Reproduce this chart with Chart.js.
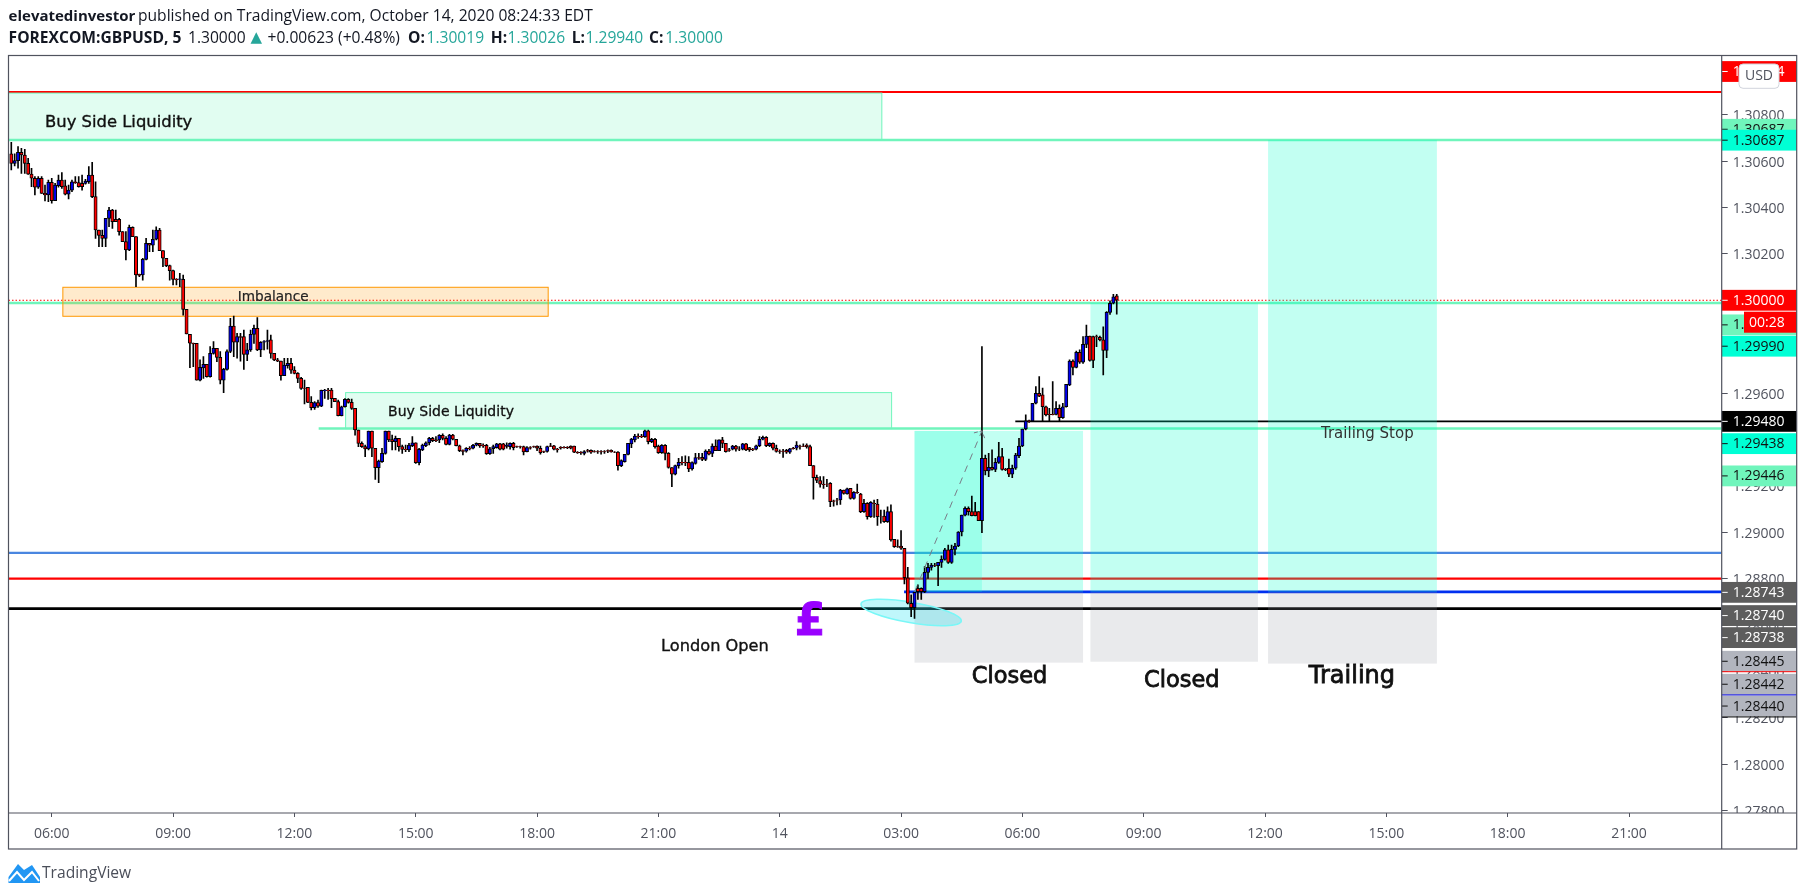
<!DOCTYPE html>
<html><head><meta charset="utf-8"><style>html,body{margin:0;padding:0;background:#fff}canvas{display:block}</style>
<script src="https://cdn.jsdelivr.net/npm/chart.js@4/dist/chart.umd.js"></script></head><body>
<canvas id="c" width="1805" height="896"></canvas>
<script>
// 5-minute GBPUSD candles, bar 0 = 05:00 on the 13th
const opens=[1.30631,1.30590,1.30602,1.30638,1.30626,1.30590,1.30544,1.30526,1.30487,1.30526,
1.30461,1.30454,1.30508,1.30429,1.30494,1.30518,1.30493,1.30457,1.30475,1.30511,
1.30507,1.30504,1.30504,1.30511,1.30540,1.30447,1.30303,1.30280,1.30267,1.30353,
1.30389,1.30349,1.30349,1.30296,1.30253,1.30217,1.30314,1.30274,1.30112,1.30109,
1.30176,1.30245,1.30237,1.30263,1.30303,1.30214,1.30181,1.30149,1.30128,1.30090,
1.30090,1.30090,1.29961,1.29853,1.29815,1.29814,1.29656,1.29708,1.29724,1.29671,
1.29771,1.29793,1.29754,1.29656,1.29702,1.29779,1.29889,1.29819,1.29843,1.29843,
1.29767,1.29786,1.29853,1.29879,1.29786,1.29819,1.29823,1.29829,1.29771,1.29743,
1.29738,1.29675,1.29718,1.29728,1.29699,1.29685,1.29663,1.29622,1.29625,1.29560,
1.29537,1.29559,1.29544,1.29610,1.29613,1.29613,1.29577,1.29563,1.29503,1.29541,
1.29573,1.29560,1.29534,1.29441,1.29383,1.29369,1.29359,1.29436,1.29362,1.29278,
1.29304,1.29340,1.29436,1.29400,1.29390,1.29405,1.29369,1.29358,1.29355,1.29373,
1.29386,1.29300,1.29355,1.29373,1.29386,1.29405,1.29398,1.29398,1.29418,1.29405,
1.29379,1.29419,1.29401,1.29373,1.29352,1.29350,1.29362,1.29362,1.29375,1.29383,
1.29375,1.29375,1.29339,1.29360,1.29365,1.29381,1.29381,1.29370,1.29369,1.29383,
1.29369,1.29369,1.29369,1.29347,1.29365,1.29369,1.29372,1.29362,1.29348,1.29348,
1.29373,1.29373,1.29359,1.29366,1.29366,1.29366,1.29372,1.29372,1.29345,1.29345,
1.29340,1.29352,1.29353,1.29348,1.29348,1.29348,1.29348,1.29352,1.29353,1.29346,
1.29346,1.29287,1.29304,1.29336,1.29381,1.29398,1.29415,1.29415,1.29412,1.29437,
1.29391,1.29401,1.29372,1.29343,1.29375,1.29340,1.29279,1.29250,1.29287,1.29302,
1.29302,1.29302,1.29273,1.29297,1.29322,1.29323,1.29314,1.29350,1.29340,1.29372,
1.29352,1.29398,1.29383,1.29355,1.29358,1.29372,1.29359,1.29358,1.29381,1.29365,
1.29358,1.29358,1.29373,1.29401,1.29409,1.29373,1.29383,1.29362,1.29350,1.29350,
1.29353,1.29345,1.29362,1.29362,1.29372,1.29372,1.29376,1.29369,1.29287,1.29237,
1.29223,1.29207,1.29208,1.29211,1.29135,1.29139,1.29139,1.29182,1.29165,1.29189,
1.29146,1.29172,1.29165,1.29089,1.29125,1.29067,1.29125,1.29122,1.29067,1.29070,
1.29046,1.29089,1.28970,1.28938,1.28941,1.28931,1.28804,1.28694,1.28675,1.28758,
1.28758,1.28744,1.28827,1.28849,1.28856,1.28856,1.28870,1.28883,1.28924,1.28870,
1.28926,1.28941,1.29001,1.29074,1.29103,1.29089,1.29089,1.29089,1.29050,1.29319,
1.29264,1.29280,1.29271,1.29301,1.29326,1.29271,1.29276,1.29250,1.29276,1.29330,
1.29372,1.29445,1.29480,1.29480,1.29556,1.29599,1.29592,1.29541,1.29508,1.29508,
1.29508,1.29534,1.29494,1.29541,1.29635,1.29738,1.29711,1.29776,1.29733,1.29810,
1.29846,1.29843,1.29843,1.29840,1.29829,1.29784,1.29948,1.29987,1.30019];
const highs=[1.30681,1.30631,1.30662,1.30655,1.30651,1.30612,1.30569,1.30533,1.30533,1.30533,
1.30497,1.30518,1.30526,1.30504,1.30540,1.30550,1.30518,1.30497,1.30518,1.30533,
1.30533,1.30540,1.30521,1.30576,1.30595,1.30511,1.30303,1.30303,1.30353,1.30401,
1.30392,1.30389,1.30353,1.30296,1.30296,1.30324,1.30317,1.30274,1.30113,1.30181,
1.30267,1.30245,1.30303,1.30317,1.30310,1.30214,1.30181,1.30152,1.30130,1.30094,
1.30116,1.30109,1.29961,1.29853,1.29815,1.29814,1.29743,1.29757,1.29724,1.29800,
1.29822,1.29793,1.29779,1.29707,1.29786,1.29922,1.29932,1.29858,1.29858,1.29872,
1.29814,1.29872,1.29893,1.29925,1.29822,1.29826,1.29872,1.29850,1.29771,1.29750,
1.29738,1.29750,1.29750,1.29750,1.29714,1.29688,1.29668,1.29656,1.29625,1.29585,
1.29563,1.29570,1.29613,1.29616,1.29620,1.29620,1.29577,1.29570,1.29544,1.29576,
1.29576,1.29574,1.29534,1.29441,1.29390,1.29376,1.29436,1.29436,1.29362,1.29311,
1.29362,1.29436,1.29436,1.29419,1.29415,1.29405,1.29376,1.29376,1.29383,1.29412,
1.29386,1.29362,1.29380,1.29390,1.29409,1.29409,1.29412,1.29421,1.29424,1.29412,
1.29422,1.29422,1.29401,1.29376,1.29355,1.29365,1.29369,1.29379,1.29386,1.29383,
1.29381,1.29379,1.29366,1.29376,1.29383,1.29383,1.29383,1.29386,1.29386,1.29388,
1.29372,1.29372,1.29372,1.29369,1.29369,1.29372,1.29373,1.29372,1.29350,1.29372,
1.29383,1.29375,1.29362,1.29369,1.29369,1.29369,1.29373,1.29372,1.29348,1.29348,
1.29352,1.29358,1.29355,1.29352,1.29352,1.29352,1.29352,1.29355,1.29355,1.29348,
1.29348,1.29312,1.29336,1.29383,1.29405,1.29422,1.29424,1.29422,1.29441,1.29441,
1.29405,1.29405,1.29376,1.29378,1.29378,1.29343,1.29279,1.29290,1.29319,1.29326,
1.29329,1.29326,1.29304,1.29340,1.29340,1.29340,1.29355,1.29358,1.29381,1.29398,
1.29398,1.29409,1.29383,1.29362,1.29375,1.29375,1.29369,1.29383,1.29383,1.29366,
1.29362,1.29376,1.29412,1.29415,1.29412,1.29386,1.29386,1.29376,1.29355,1.29358,
1.29358,1.29362,1.29366,1.29391,1.29376,1.29381,1.29381,1.29376,1.29287,1.29247,
1.29240,1.29240,1.29228,1.29214,1.29139,1.29146,1.29185,1.29182,1.29191,1.29189,
1.29175,1.29208,1.29168,1.29142,1.29128,1.29132,1.29139,1.29142,1.29096,1.29096,
1.29110,1.29118,1.28970,1.28967,1.29007,1.28931,1.28849,1.28730,1.28741,1.28773,
1.28761,1.28852,1.28866,1.28866,1.28866,1.28870,1.28898,1.28931,1.28945,1.28945,
1.28952,1.29003,1.29074,1.29110,1.29110,1.29156,1.29129,1.29089,1.29800,1.29333,
1.29340,1.29355,1.29319,1.29388,1.29362,1.29276,1.29316,1.29290,1.29340,1.29405,
1.29445,1.29506,1.29484,1.29556,1.29628,1.29671,1.29621,1.29544,1.29534,1.29649,
1.29563,1.29549,1.29556,1.29638,1.29743,1.29743,1.29781,1.29786,1.29843,1.29893,
1.29846,1.29846,1.29850,1.29846,1.29886,1.29951,1.29998,1.30026,1.30026];
const lows=[1.30562,1.30579,1.30569,1.30547,1.30547,1.30542,1.30490,1.30454,1.30482,1.30461,
1.30428,1.30425,1.30418,1.30429,1.30487,1.30482,1.30454,1.30437,1.30468,1.30504,
1.30487,1.30475,1.30500,1.30504,1.30442,1.30267,1.30231,1.30231,1.30231,1.30317,
1.30310,1.30339,1.30281,1.30253,1.30174,1.30214,1.30274,1.30059,1.30102,1.30087,
1.30174,1.30209,1.30209,1.30260,1.30214,1.30145,1.30145,1.30087,1.30066,1.30066,
1.30059,1.29936,1.29855,1.29710,1.29714,1.29656,1.29652,1.29663,1.29668,1.29668,
1.29768,1.29735,1.29639,1.29602,1.29699,1.29774,1.29757,1.29750,1.29738,1.29702,
1.29740,1.29779,1.29814,1.29783,1.29757,1.29786,1.29789,1.29750,1.29740,1.29735,
1.29656,1.29675,1.29707,1.29685,1.29682,1.29645,1.29616,1.29553,1.29559,1.29527,
1.29530,1.29538,1.29541,1.29577,1.29573,1.29537,1.29563,1.29501,1.29501,1.29539,
1.29556,1.29530,1.29419,1.29369,1.29366,1.29326,1.29355,1.29326,1.29228,1.29214,
1.29301,1.29337,1.29390,1.29355,1.29355,1.29350,1.29340,1.29347,1.29347,1.29369,
1.29297,1.29290,1.29352,1.29369,1.29376,1.29391,1.29391,1.29386,1.29398,1.29376,
1.29376,1.29398,1.29372,1.29347,1.29333,1.29345,1.29355,1.29359,1.29372,1.29366,
1.29366,1.29336,1.29336,1.29340,1.29362,1.29355,1.29355,1.29362,1.29358,1.29355,
1.29366,1.29362,1.29333,1.29346,1.29358,1.29366,1.29352,1.29337,1.29343,1.29345,
1.29369,1.29355,1.29345,1.29358,1.29362,1.29360,1.29359,1.29343,1.29340,1.29336,
1.29333,1.29345,1.29340,1.29345,1.29340,1.29337,1.29340,1.29343,1.29345,1.29343,
1.29268,1.29283,1.29302,1.29333,1.29365,1.29389,1.29405,1.29408,1.29409,1.29381,
1.29386,1.29362,1.29340,1.29340,1.29312,1.29276,1.29197,1.29247,1.29276,1.29290,
1.29287,1.29261,1.29268,1.29294,1.29314,1.29309,1.29309,1.29333,1.29326,1.29352,
1.29352,1.29365,1.29345,1.29348,1.29355,1.29350,1.29352,1.29355,1.29352,1.29348,
1.29352,1.29355,1.29369,1.29398,1.29369,1.29369,1.29355,1.29345,1.29340,1.29323,
1.29340,1.29340,1.29358,1.29355,1.29358,1.29369,1.29362,1.29287,1.29143,1.29214,
1.29194,1.29189,1.29197,1.29110,1.29113,1.29118,1.29120,1.29164,1.29164,1.29143,
1.29143,1.29168,1.29085,1.29086,1.29056,1.29064,1.29064,1.29029,1.29039,1.29043,
1.29043,1.28962,1.28935,1.28935,1.28926,1.28777,1.28691,1.28636,1.28629,1.28711,
1.28711,1.28740,1.28801,1.28837,1.28852,1.28770,1.28849,1.28880,1.28866,1.28866,
1.28902,1.28938,1.28984,1.29070,1.29074,1.29070,1.29070,1.29050,1.28998,1.29247,
1.29240,1.29268,1.29261,1.29297,1.29268,1.29266,1.29240,1.29235,1.29271,1.29322,
1.29369,1.29441,1.29474,1.29477,1.29553,1.29585,1.29480,1.29501,1.29481,1.29506,
1.29506,1.29480,1.29491,1.29539,1.29632,1.29678,1.29708,1.29728,1.29728,1.29796,
1.29738,1.29710,1.29800,1.29825,1.29678,1.29753,1.29939,1.29984,1.29940];
const closes=[1.30590,1.30602,1.30638,1.30626,1.30590,1.30544,1.30526,1.30487,1.30526,1.30461,
1.30454,1.30508,1.30429,1.30497,1.30518,1.30490,1.30457,1.30475,1.30511,1.30507,
1.30490,1.30490,1.30514,1.30540,1.30447,1.30303,1.30280,1.30267,1.30353,1.30389,
1.30339,1.30339,1.30296,1.30253,1.30217,1.30314,1.30274,1.30109,1.30107,1.30176,
1.30245,1.30237,1.30263,1.30303,1.30214,1.30181,1.30149,1.30128,1.30090,1.30088,
1.30092,1.29961,1.29855,1.29815,1.29812,1.29656,1.29711,1.29724,1.29671,1.29771,
1.29793,1.29754,1.29656,1.29702,1.29779,1.29889,1.29819,1.29843,1.29840,1.29767,
1.29786,1.29853,1.29879,1.29786,1.29819,1.29822,1.29826,1.29771,1.29743,1.29738,
1.29675,1.29721,1.29728,1.29699,1.29685,1.29663,1.29620,1.29620,1.29560,1.29537,
1.29559,1.29544,1.29612,1.29613,1.29610,1.29576,1.29563,1.29503,1.29541,1.29573,
1.29560,1.29534,1.29441,1.29383,1.29369,1.29359,1.29436,1.29362,1.29278,1.29307,
1.29340,1.29436,1.29398,1.29390,1.29405,1.29369,1.29357,1.29356,1.29376,1.29386,
1.29300,1.29357,1.29376,1.29386,1.29405,1.29395,1.29395,1.29418,1.29405,1.29379,
1.29419,1.29401,1.29373,1.29352,1.29349,1.29362,1.29359,1.29375,1.29383,1.29372,
1.29372,1.29339,1.29360,1.29369,1.29381,1.29358,1.29358,1.29376,1.29383,1.29365,
1.29368,1.29368,1.29346,1.29365,1.29363,1.29368,1.29362,1.29343,1.29346,1.29369,
1.29370,1.29358,1.29355,1.29363,1.29365,1.29365,1.29362,1.29345,1.29343,1.29343,
1.29348,1.29350,1.29345,1.29346,1.29346,1.29346,1.29346,1.29350,1.29346,1.29345,
1.29287,1.29309,1.29336,1.29383,1.29402,1.29415,1.29412,1.29412,1.29437,1.29391,
1.29401,1.29369,1.29343,1.29375,1.29340,1.29279,1.29250,1.29287,1.29302,1.29299,
1.29299,1.29273,1.29300,1.29322,1.29319,1.29314,1.29350,1.29337,1.29372,1.29352,
1.29398,1.29383,1.29347,1.29353,1.29372,1.29358,1.29358,1.29381,1.29355,1.29355,
1.29356,1.29373,1.29401,1.29409,1.29373,1.29383,1.29362,1.29348,1.29349,1.29349,
1.29345,1.29360,1.29360,1.29376,1.29370,1.29370,1.29369,1.29287,1.29235,1.29223,
1.29207,1.29205,1.29207,1.29132,1.29133,1.29138,1.29182,1.29168,1.29187,1.29146,
1.29172,1.29171,1.29089,1.29125,1.29067,1.29129,1.29123,1.29067,1.29066,1.29046,
1.29089,1.28967,1.28938,1.28937,1.28931,1.28804,1.28694,1.28675,1.28741,1.28744,
1.28744,1.28827,1.28849,1.28859,1.28855,1.28870,1.28883,1.28924,1.28870,1.28926,
1.28941,1.29001,1.29074,1.29103,1.29089,1.29072,1.29072,1.29050,1.29319,1.29264,
1.29280,1.29271,1.29301,1.29326,1.29271,1.29270,1.29250,1.29276,1.29333,1.29372,
1.29445,1.29480,1.29478,1.29556,1.29599,1.29587,1.29541,1.29506,1.29507,1.29507,
1.29534,1.29494,1.29541,1.29638,1.29738,1.29711,1.29776,1.29733,1.29810,1.29846,
1.29741,1.29741,1.29842,1.29829,1.29784,1.29948,1.29987,1.30015,1.30000];
// axes
const xTickBars=[12,48,84,120,156,192,228,264,300,336,372,408,444,480];
const xTickLabels=["06:00","09:00","12:00","15:00","18:00","21:00","14","03:00","06:00","09:00","12:00","15:00","18:00","21:00"];
const yTicks=[1.278,1.280,1.282,1.284,1.286,1.288,1.290,1.292,1.294,1.296,1.298,1.300,1.302,1.304,1.306,1.308];
// horizontal levels: [price, fromBar, colour, width]
const levels=[[1.30898,-1,"#ff0000",2],[1.30691,-1,"#70f5bc",2.4],[1.29988,-1,"#70f5bc",2.4],[1.29447,91.2,"#70f5bc",2.4],
[1.29478,297.9,"#000000",1.6],[1.28911,-1,"#4a86e0",2.2],[1.28800,-1,"#ff0000",2.4],[1.28743,264.9,"#0030f0",2.6],[1.28671,-1,"#000000",2.6]];
// rectangles: [fromBar,toBar,topPrice,bottomPrice,fill,stroke]
const boxes=[[-1,258.3,1.30893,1.30691,"rgba(112,245,188,.21)","#70f5bc"],
[15.3,159.3,1.30056,1.29931,"rgba(255,152,0,.2)","#ff9800"],
[99.2,261.2,1.29602,1.29447,"rgba(112,245,188,.21)","#70f5bc"],
[268,318,1.29437,1.28743,"rgba(0,255,200,.24)",null],[268,288,1.29437,1.28743,"rgba(0,255,200,.2)",null],[268,318,1.28743,1.28438,"rgba(145,150,160,.2)",null],
[320.2,369.9,1.29988,1.28743,"rgba(0,255,200,.24)",null],[320.2,369.9,1.28743,1.28442,"rgba(145,150,160,.2)",null],
[372.9,423,1.30691,1.28743,"rgba(0,255,200,.24)",null],[372.9,423,1.28743,1.28434,"rgba(145,150,160,.2)",null]];
// chart texts: [text,bar,price,font,colour,align,stroke]
const notes=[["Buy Side Liquidity",10,1.30764,"16.4px 'DejaVu Sans'","#111","left",.35],
["Buy Side Liquidity",111.8,1.29515,"14px 'DejaVu Sans'","#111","left",.3],
["Imbalance",77.7,1.30013,"13.6px 'DejaVu Sans'","#222","center",.2],
["London Open",192.8,1.28506,"16.2px 'DejaVu Sans'","#111","left",.35],
["Closed",285,1.28376,"22.5px 'DejaVu Sans'","#111","left",.8],
["Closed",336.1,1.28357,"22.5px 'DejaVu Sans'","#111","left",.8],
["Trailing",385,1.28376,"24px 'DejaVu Sans'","#111","left",.8],
["Trailing Stop",388.6,1.29423,"15px 'DejaVu Sans'","#333","left",0],
["£",237,1.28605,"bold 44px 'DejaVu Sans'","#9900ff","center",1]];
// price-scale tags: [text,price position,background,text colour]
const tags=[["1.30894",1.30986,"#ff0000","#fff"],["1.30687",1.30737,"#70f5bc","#111"],["1.30687",1.30690,"#00ffd5","#111"],
["1.30000",1.30000,"#ff0000","#fff"],["1.29990",1.29894,"#70f5bc","#111"],["1.29990",1.29802,"#00ffd5","#111"],
["1.29480",1.29478,"#000000","#fff"],["1.29438",1.29382,"#00ffd5","#111"],["1.29446",1.29243,"#70f5bc","#111"],
["1.28743",1.28741,"#5d5d5d","#fff"],["1.28740",1.28641,"#5d5d5d","#fff"],["1.28738",1.28546,"#5d5d5d","#fff"],
["1.28445",1.28444,"#b2b5be","#111"],["1.28442",1.28345,"#b2b5be","#111"],["1.28440",1.28251,"#b2b5be","#111"]];
const tagRules=[[1.28444-0.00045,"#ff0000"],[1.28345-0.00046,"#0000e0"],[1.28251-0.00047,"#000"]];
// header segments: [text,x,font,colour]
const F="px 'Open Sans'";
const head1=[["elevatedinvestor",8.6,"bold 15"+F,"#131722"],["published on TradingView.com, October 14, 2020 08:24:33 EDT",138,"15.6"+F,"#131722"]];
const head2=[["FOREXCOM:GBPUSD, 5",8.6,"bold 15.6"+F,"#131722"],["1.30000",188,"15.6"+F,"#131722"],["▲",250.5,"15px 'DejaVu Sans'","#26a69a"],["+0.00623 (+0.48%)",267.5,"15.6"+F,"#131722"],
["O:",408,"bold 15.6"+F,"#131722"],["1.30019",426.5,"15.6"+F,"#26a69a"],["H:",490.8,"bold 15.6"+F,"#131722"],["1.30026",507.5,"15.6"+F,"#26a69a"],
["L:",571.8,"bold 15.6"+F,"#131722"],["1.29940",585.5,"15.6"+F,"#26a69a"],["C:",649,"bold 15.6"+F,"#131722"],["1.30000",665.3,"15.6"+F,"#26a69a"]];

const bars=opens.map((o,i)=>i);
const wickData=bars.map(i=>({x:i,y:[lows[i],highs[i]]}));
const bodyData=bars.map(i=>({x:i,y:[opens[i],closes[i]]}));
const bodyColors=bars.map(i=>closes[i]>=opens[i]?"#0000f0":"#ff0000");
const AXIS="#50535e";

const overlay={id:"overlay",
 beforeDatasetsDraw(ch){const c=ch.ctx,X=ch.scales.x,Y=ch.scales.y,A=ch.chartArea;
  c.save();c.beginPath();c.rect(A.left,A.top,A.right-A.left,A.bottom-A.top);c.clip();
  for(const [p,from,col,w] of levels){c.strokeStyle=col;c.lineWidth=w;c.beginPath();c.moveTo(X.getPixelForValue(from),Y.getPixelForValue(p));c.lineTo(A.right,Y.getPixelForValue(p));c.stroke();}
  c.strokeStyle="#ff0000";c.lineWidth=1;c.setLineDash([1.5,2]);const ly=Y.getPixelForValue(closes[closes.length-1]);c.beginPath();c.moveTo(A.left,ly);c.lineTo(A.right,ly);c.stroke();c.setLineDash([]);
  for(const [a,b,t,u,f,s] of boxes){const x=X.getPixelForValue(a),w=X.getPixelForValue(b)-x,y=Y.getPixelForValue(t),h=Y.getPixelForValue(u)-y;
   c.fillStyle=f;c.fillRect(x,y,w,h);if(s){c.strokeStyle=s;c.lineWidth=1;c.strokeRect(x,y,w,h);}}
  const ex=X.getPixelForValue(267),ey=Y.getPixelForValue(1.28654),rx=X.getPixelForValue(267+15.1)-ex,ry=Y.getPixelForValue(1.28654-0.00044)-ey;
  c.beginPath();c.ellipse(ex,ey,rx,ry,0.17,0,Math.PI*2);c.fillStyle="rgba(0,225,240,.25)";c.fill();c.strokeStyle="#7af7f7";c.lineWidth=1.5;c.stroke();
  c.restore();},
 afterDatasetsDraw(ch){const c=ch.ctx,X=ch.scales.x,Y=ch.scales.y;
  const x0=X.getPixelForValue(268),y0=Y.getPixelForValue(1.28743),x1=X.getPixelForValue(288),y1=Y.getPixelForValue(1.29437);
  c.save();c.strokeStyle="#787b86";c.lineWidth=1;c.setLineDash([7,6]);c.beginPath();c.moveTo(x0,y0);c.lineTo(x1,y1);c.stroke();
  c.setLineDash([4,2]);c.beginPath();c.moveTo(x1-8,y1+2);c.lineTo(x1,y1);c.lineTo(x1+3,y1+8);c.stroke();c.restore();
  c.save();c.textBaseline="middle";
  for(const [t,b,p,f,col,al,st] of notes){c.font=f;c.fillStyle=col;c.textAlign=al;const px=X.getPixelForValue(b),py=Y.getPixelForValue(p);c.fillText(t,px,py);
   if(st){c.strokeStyle=col;c.lineWidth=st;c.strokeText(t,px,py);}}
  c.restore();},
 afterDraw(ch){const c=ch.ctx,X=ch.scales.x,Y=ch.scales.y,A=ch.chartArea,R=1796.7,B=849;
  c.save();
  c.fillStyle="#fff";c.fillRect(A.right,A.bottom,R-A.right,B-A.bottom);
  c.textBaseline="middle";c.textAlign="left";
  for(const [t,p,bg,fg] of tags){const y=Y.getPixelForValue(p);c.fillStyle=bg;c.fillRect(A.right,y-10.4,R-A.right,20.8);
   c.fillStyle=fg;c.fillRect(A.right,y-.5,6,1);c.font="14px 'Open Sans'";c.fillText(t,1732.7,y+.5);}
  for(const [p,col] of tagRules){const y=Y.getPixelForValue(p);c.strokeStyle=col;c.lineWidth=1;c.beginPath();c.moveTo(A.right,y);c.lineTo(R,y);c.stroke();}
  c.fillStyle="#ff0000";c.fillRect(1744,311.7,R-1744,21);c.fillStyle="#fff";c.font="14px 'Open Sans'";c.fillText("00:28",1749,322.6);
  c.beginPath();c.roundRect(1739,64,40,24.3,4);c.fillStyle="#fff";c.fill();c.strokeStyle="#d1d4dc";c.lineWidth=1;c.stroke();
  c.fillStyle=AXIS;c.textAlign="center";c.font="14px 'Open Sans'";c.fillText("USD",1759,76.5);c.textAlign="left";
  c.strokeStyle=AXIS;c.lineWidth=1.2;c.strokeRect(A.left,A.top,R-A.left,B-A.top);
  c.beginPath();c.moveTo(A.right,A.top);c.lineTo(A.right,B);c.moveTo(A.left,A.bottom);c.lineTo(R,A.bottom);c.stroke();
  for(const [t,x,f,col] of head1){c.font=f;c.fillStyle=col;c.fillText(t,x,17);}
  for(const [t,x,f,col] of head2){c.font=f;c.fillStyle=col;c.fillText(t,x,38.5);}
  c.fillStyle="#2196f3";c.beginPath();c.moveTo(8.5,883);c.lineTo(8.5,877);c.lineTo(18,864);c.lineTo(24,870);c.lineTo(32,865);c.lineTo(40,877);c.lineTo(40,883);c.closePath();c.fill();
  c.strokeStyle="#fff";c.lineWidth=2;c.beginPath();c.moveTo(9,881);c.lineTo(17,872);c.lineTo(24,880);c.lineTo(32,872);c.lineTo(39,881);c.stroke();
  c.fillStyle="#4a4e59";c.font="15.6px 'Open Sans'";c.fillText("TradingView",42,873.5);
  c.restore();}};

new Chart(document.getElementById("c"),{type:"bar",
 data:{datasets:[
  {label:"Body",data:bodyData,order:1,backgroundColor:bodyColors,borderColor:"#000",borderWidth:1,barThickness:3.3,grouped:false,borderSkipped:false},
  {label:"Wick",data:wickData,order:2,backgroundColor:"#000",borderWidth:0,barThickness:1,grouped:false}]},
 plugins:[overlay],
 options:{responsive:false,animation:false,devicePixelRatio:1,
  layout:{padding:{left:8.5,top:55.5,right:8.3,bottom:47}},
  plugins:{legend:{display:false},tooltip:{enabled:false},title:{display:false}},
  scales:{
   x:{type:"linear",min:-0.83,max:507.5,offset:false,
    afterBuildTicks(s){s.ticks=xTickBars.map(v=>({value:v}));},
    afterFit(s){s.height=36;},
    border:{display:false},grid:{offset:false,drawOnChartArea:false,drawTicks:true,tickLength:4,tickColor:AXIS},
    ticks:{autoSkip:false,maxRotation:0,padding:9,color:AXIS,font:{family:"Open Sans",size:14},callback(v){const i=xTickBars.indexOf(v);return i<0?"":xTickLabels[i];}}},
   y:{type:"linear",position:"right",min:1.27790,max:1.31055,
    afterBuildTicks(s){s.ticks=yTicks.map(v=>({value:v}));},
    afterFit(s){s.width=75;},
    border:{display:false},grid:{drawOnChartArea:false,drawTicks:true,tickLength:6,tickColor:AXIS},
    ticks:{padding:5,labelOffset:1.5,color:AXIS,font:{family:"Open Sans",size:14},callback(v){return v.toFixed(5);}}}
  }}});
</script></body></html>
